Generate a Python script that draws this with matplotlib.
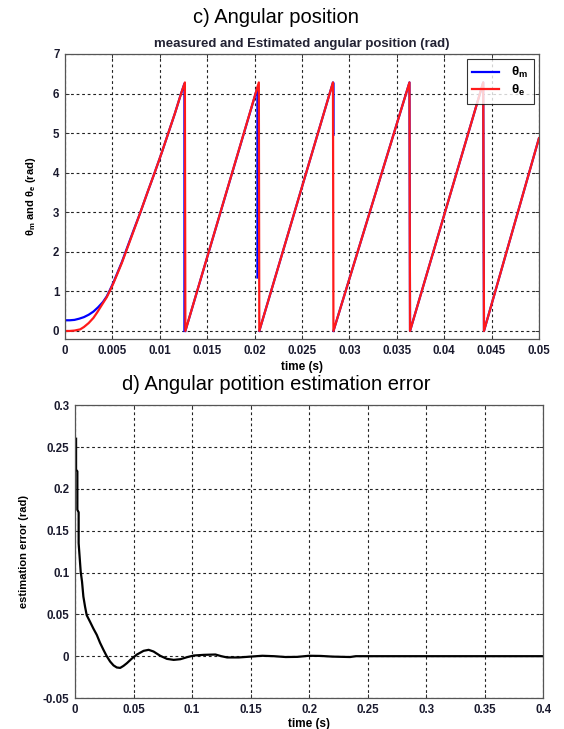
import numpy as np
import matplotlib
matplotlib.use("Agg")
import matplotlib.pyplot as plt

plt.rcParams['font.family'] = ['Liberation Sans', 'DejaVu Sans']
plt.rcParams['mathtext.fontset'] = 'custom'
plt.rcParams['mathtext.rm'] = 'Liberation Sans'
plt.rcParams['mathtext.it'] = 'Liberation Sans:italic'
plt.rcParams['mathtext.bf'] = 'Liberation Sans:bold'

# ---------------- data: angular position (time in ms) ----------------
t_est_ms = [0, 0.5, 1.0, 1.6, 2.0, 2.5, 3.0, 3.4, 4.0, 4.4, 4.75, 5.1, 5.5, 6.0, 6.43, 7.2,
            7.96, 8.7, 9.46, 10.2, 10.9, 11.6, 12.25, 12.65, 12.7, 20.45, 20.5, 28.27,
            28.32, 36.34, 36.4, 44.12, 44.2, 50.0]
theta_est = [0, 0.0, 0.01, 0.04, 0.1, 0.2, 0.33, 0.47, 0.7, 0.85, 1.02, 1.2, 1.43, 1.72, 2.0, 2.5,
             3.0, 3.5, 4.0, 4.5, 5.0, 5.5, 6.0, 6.28, 0.0, 6.28, 0.0, 6.28,
             0.0, 6.28, 0.0, 6.28, 0.0, 4.87]

t_meas_ms = [0, 0.5, 1.0, 1.5, 2.0, 2.5, 3.0, 3.5, 4.0, 4.4, 4.75, 5.1, 5.5, 6.0, 6.43, 7.2,
             7.96, 8.7, 9.46, 10.2, 10.9, 11.6, 12.25, 12.6, 12.6, np.nan, 12.7, 20.3, 20.3,
             np.nan, 20.5, 28.27, 28.33, 28.33, np.nan, 28.32, 36.34, 36.4, 44.12, 44.2, 50.0]
theta_meas = [0.27, 0.27, 0.28, 0.31, 0.35, 0.41, 0.49, 0.6, 0.73, 0.87, 1.04, 1.22, 1.45, 1.74, 2.02, 2.52,
              3.0, 3.5, 4.0, 4.5, 5.0, 5.5, 6.0, 6.25, 0.0, np.nan, 0.0, 6.15, 1.35,
              np.nan, 0.0, 6.28, 6.26, 4.96, np.nan, 0.0, 6.28, 0.0, 6.28, 0.0, 4.87]

pos_xticks = [0, 0.005, 0.01, 0.015, 0.02, 0.025, 0.03, 0.035, 0.04, 0.045, 0.05]
pos_xticklabels = ['0', '0.005', '0.01', '0.015', '0.02', '0.025', '0.03', '0.035', '0.04', '0.045', '0.05']
pos_yticks = [0, 1, 2, 3, 4, 5, 6, 7]

# ---------------- data: estimation error ----------------
t_err = [0.0009, 0.0009, 0.002, 0.002, 0.0031, 0.0031, 0.00486, 0.006, 0.00714, 0.0086,
         0.01, 0.0129, 0.0157, 0.0186, 0.0214, 0.0243, 0.0271, 0.03, 0.0329, 0.0357,
         0.0386, 0.0414, 0.0443, 0.0486, 0.0529, 0.0586, 0.0629, 0.0671, 0.0729, 0.0786,
         0.0843, 0.09, 0.0957, 0.1014, 0.11, 0.12, 0.125, 0.13, 0.14, 0.15, 0.16, 0.17,
         0.18, 0.19, 0.2, 0.21, 0.22, 0.235, 0.24, 0.3, 0.4]
err = [0.26, 0.223, 0.221, 0.175, 0.172, 0.135, 0.101, 0.089, 0.0713, 0.059,
       0.049, 0.041, 0.033, 0.0255, 0.016, 0.0076, 0.0, -0.0064, -0.011, -0.0135,
       -0.014, -0.0116, -0.0084, -0.0028, 0.002, 0.0064, 0.0076, 0.0056, 0.0004, -0.0032,
       -0.0044, -0.0036, -0.0012, 0.0008, 0.0016, 0.002, 0.0, -0.0015, -0.0015, -0.0005, 0.0005, 0.0,
       -0.001, -0.0008, 0.0005, 0.0003, -0.0005, -0.001, 0.0, 0.0, 0.0]

err_xticks = [0, 0.05, 0.1, 0.15, 0.2, 0.25, 0.3, 0.35, 0.4]
err_xticklabels = ['0', '0.05', '0.1', '0.15', '0.2', '0.25', '0.3', '0.35', '0.4']
err_yticks = [-0.05, 0, 0.05, 0.1, 0.15, 0.2, 0.25, 0.3]
err_yticklabels = ['-0.05', '0', '0.05', '0.1', '0.15', '0.2', '0.25', '0.3']

fig = plt.figure(figsize=(5.64, 7.29), dpi=100)
fig.patch.set_facecolor('white')

grid_kw = dict(color='#222222', linestyle=(0, (2.5, 2.5)), linewidth=0.8)
tick_color = '#1a1a2e'


def style_axes(ax):
    ax.tick_params(direction='in', length=3, width=0.7, colors='#333333', labelsize=8.3,
                   labelcolor=tick_color, pad=4, top=True, right=True)
    for lab in ax.get_xticklabels() + ax.get_yticklabels():
        lab.set_fontweight('bold')
    for s in ax.spines.values():
        s.set_color('#555555')
        s.set_linewidth(0.9)
    ax.grid(True, **grid_kw)
    ax.set_axisbelow(True)


# ---------------- top axes ----------------
ax1 = fig.add_axes([0.1152, 0.5346, 0.8404, 0.3914])
t_meas_s = np.array(t_meas_ms) / 1000.0
t_est_s = np.array(t_est_ms) / 1000.0
ax1.plot(t_meas_s, theta_meas, color='#0000ff', linewidth=1.6, label=r'$\mathbf{\theta_m}$')
ax1.plot(t_est_s, theta_est, color='#ff1a1a', linewidth=1.6, label=r'$\mathbf{\theta_e}$')
ax1.set_xlim(0, 0.05)
ax1.set_ylim(-0.21, 7)
ax1.set_xticks(pos_xticks)
ax1.set_xticklabels(pos_xticklabels)
ax1.set_yticks(pos_yticks)
style_axes(ax1)
ax1.set_xlabel('time (s)', fontsize=8.5, fontweight='bold', labelpad=3)
ax1.set_ylabel(r'$\mathbf{\theta_m}$ and $\mathbf{\theta_e}$ (rad)', fontsize=8,
               fontweight='bold', labelpad=11)
ax1.set_title('measured and Estimated angular position (rad)', fontsize=9.5,
              fontweight='bold', color='#222233', pad=5)
leg = ax1.legend(loc='upper right', fontsize=9.5, frameon=True, fancybox=False,
                 edgecolor='black', handlelength=2.0, borderaxespad=0.4,
                 borderpad=0.45, labelspacing=0.2, handletextpad=0.9)
leg.get_frame().set_linewidth(0.8)

# ---------------- bottom axes ----------------
ax2 = fig.add_axes([0.133, 0.0425, 0.830, 0.4016])
ax2.plot(t_err, err, color='black', linewidth=1.6)
ax2.set_xlim(0, 0.4)
ax2.set_ylim(-0.05, 0.3)
ax2.set_xticks(err_xticks)
ax2.set_xticklabels(err_xticklabels)
ax2.set_yticks(err_yticks)
ax2.set_yticklabels(err_yticklabels)
style_axes(ax2)
ax2.set_xlabel('time (s)', fontsize=8.5, fontweight='bold', labelpad=2)
ax2.set_ylabel('estimation error (rad)', fontsize=8, fontweight='bold', labelpad=10)

# ---------------- panel titles ----------------
fig.text(0.49, 0.976, 'c) Angular position', ha='center', va='center', fontsize=14.5)
fig.text(0.49, 0.472, 'd) Angular potition estimation error', ha='center', va='center',
         fontsize=14.5)

fig.savefig('out.png', dpi=100, facecolor='white')
